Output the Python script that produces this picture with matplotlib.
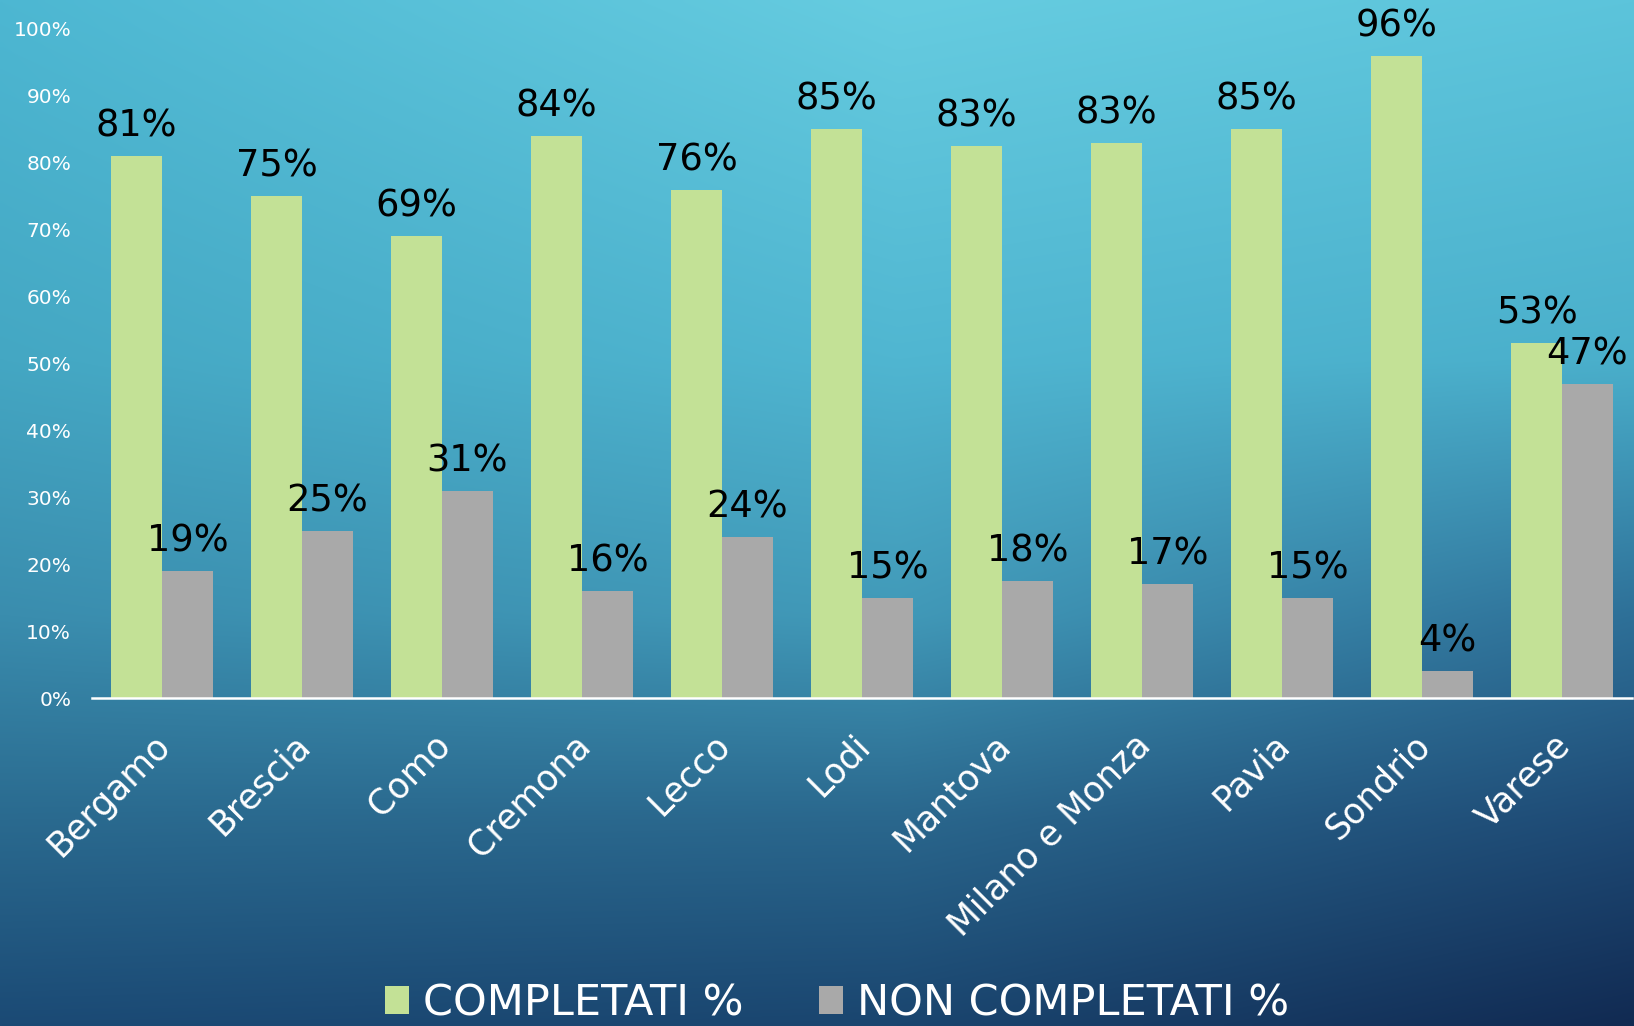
import numpy as np
import matplotlib
matplotlib.use("Agg")
import matplotlib.pyplot as plt
from matplotlib.patches import Patch
from matplotlib.colors import to_rgb

# Data
provinces = ["Bergamo", "Brescia", "Como", "Cremona", "Lecco", "Lodi", "Mantova",
             "Milano e Monza", "Pavia", "Sondrio", "Varese"]
completati = [81, 75, 69, 84, 76, 85, 82.5, 83, 85, 96, 53]
non_completati = [19, 25, 31, 16, 24, 15, 17.5, 17, 15, 4, 47]
completati_labels = ["81%", "75%", "69%", "84%", "76%", "85%", "83%", "83%", "85%", "96%", "53%"]
non_completati_labels = ["19%", "25%", "31%", "16%", "24%", "15%", "18%", "17%", "15%", "4%", "47%"]
y_ticks = list(range(0, 101, 10))

GREEN = "#C3E196"
GREY = "#A9A9A9"
FONT = "DejaVu Sans"

W, H = 1634, 1026
fig = plt.figure(figsize=(W / 100, H / 100), dpi=100)

# Background gradient (light cyan at top to dark navy at bottom right)
gx = [0.0, 0.55, 1.0]
gy = [0.0, 0.35, 0.6, 0.8, 1.0]
grid = [
    ["#4DB7D2", "#66CCE0", "#5CC4DB"],
    ["#44A7C3", "#50B6D1", "#4AAFCB"],
    ["#3A8DAE", "#4199B8", "#2E7098"],
    ["#2A6A8F", "#2A678D", "#1E4A75"],
    ["#1B4A75", "#1A456F", "#112A52"],
]
g = np.array([[to_rgb(c) for c in row] for row in grid])
xx = np.linspace(0, 1, 400)
yy = np.linspace(0, 1, 260)
rows = np.stack([np.stack([np.interp(xx, gx, g[j, :, ch]) for ch in range(3)], -1)
                 for j in range(len(gy))])
img = np.stack([np.stack([np.interp(yy, gy, rows[:, i, ch]) for ch in range(3)], -1)
                for i in range(len(xx))], 1)
bg = fig.add_axes([0, 0, 1, 1], zorder=-1)
bg.imshow(img, aspect="auto", extent=[0, 1, 1, 0], interpolation="bilinear")
bg.set_axis_off()

ax = fig.add_axes([92 / W, 328 / H, 1540 / W, 698 / H])
ax.patch.set_alpha(0)

x = np.arange(len(provinces))
bw = 0.364
ax.bar(x - bw / 2, completati, bw, color=GREEN, zorder=2)
ax.bar(x + bw / 2, non_completati, bw, color=GREY, zorder=2)

ax.set_xlim(-0.5, len(provinces) - 0.5)
ax.set_ylim(0, 698 / 669 * 100)

for i in range(len(provinces)):
    ax.annotate(completati_labels[i], (x[i] - bw / 2, completati[i]), xytext=(0, 14),
                textcoords="offset points", ha="center", va="baseline",
                fontsize=26.5, family=FONT, color="black")
    ax.annotate(non_completati_labels[i], (x[i] + bw / 2, non_completati[i]), xytext=(0, 14),
                textcoords="offset points", ha="center", va="baseline",
                fontsize=26.5, family=FONT, color="black")

ax.set_yticks(y_ticks)
ax.set_yticklabels([f"{t}%" for t in y_ticks], color="white", fontsize=14.5, family=FONT)
ax.tick_params(axis="y", length=0, pad=15)
ax.set_xticks([])

for s in ["top", "right", "left"]:
    ax.spines[s].set_visible(False)
ax.spines["bottom"].set_color("white")
ax.spines["bottom"].set_linewidth(1.8)

for i, name in enumerate(provinces):
    ax.annotate(name, (x[i], 0), xytext=(2, -30), textcoords="offset points",
                ha="right", va="center", rotation=45, rotation_mode="anchor",
                fontsize=25, family=FONT, color="white", annotation_clip=False)

handles = [Patch(facecolor=GREEN, label="COMPLETATI %"),
           Patch(facecolor=GREY, label="NON COMPLETATI %")]
fig.legend(handles=handles, loc="lower center", bbox_to_anchor=(837 / W, -0.036), ncol=2,
           frameon=False, labelcolor="white", handlelength=0.57,
           handleheight=0.64, handletextpad=0.32, columnspacing=1.75,
           prop={"family": FONT, "size": 31})

fig.savefig("out.png", dpi=100)
